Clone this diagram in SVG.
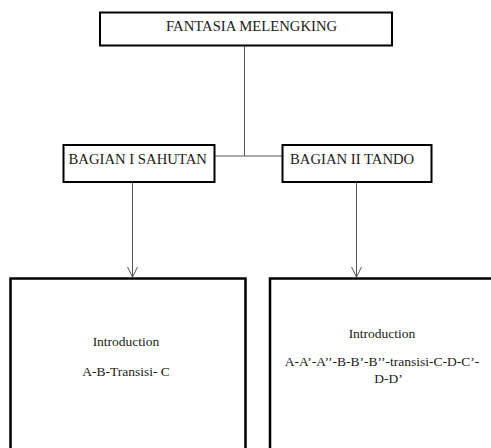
<svg xmlns="http://www.w3.org/2000/svg" width="491" height="448" viewBox="0 0 491 448">
<style>
.box{fill:#fff;stroke:#000;stroke-width:2}
.big{stroke-width:2.5}
.t{font-family:"Liberation Serif","Times New Roman",serif;fill:#1a1a1a}
.h{font-size:14.7px}
.s{font-size:13.5px}
.c{stroke:#555;stroke-width:1;fill:none}
</style>
<defs>
<marker id="arr" markerWidth="12" markerHeight="12" refX="10" refY="5" orient="auto" markerUnits="userSpaceOnUse">
<path d="M0,0 L10,5 L0,10" fill="none" stroke="#555" stroke-width="1"/>
</marker>
</defs>
<g id="connectors">
<line class="c" x1="244.5" y1="46" x2="244.5" y2="156"/>
<line class="c" x1="214" y1="156" x2="283" y2="156"/>
<line class="c" x1="132.5" y1="182" x2="132.5" y2="277" marker-end="url(#arr)"/>
<line class="c" x1="356.5" y1="182" x2="356.5" y2="277" marker-end="url(#arr)"/>
</g>
<g id="fantasia">
<rect class="box" x="100" y="12.5" width="292" height="33"/>
<text class="t h" x="166" y="31">FANTASIA MELENGKING</text>
</g>
<g id="bagian1">
<rect class="box" x="63.5" y="145" width="151" height="37"/>
<text class="t h" x="68.5" y="163.5">BAGIAN I SAHUTAN</text>
</g>
<g id="bagian2">
<rect class="box" x="282.5" y="145" width="149" height="37"/>
<text class="t h" x="290" y="163.5">BAGIAN II TANDO</text>
</g>
<g id="detail1">
<rect class="box big" x="10.5" y="278.5" width="235" height="180"/>
<text class="t s" x="126" y="346" text-anchor="middle">Introduction</text>
<text class="t s" x="126" y="376" text-anchor="middle">A-B-Transisi- C</text>
</g>
<g id="detail2">
<rect class="box big" x="270" y="278.5" width="240" height="180"/>
<text class="t s" x="382" y="337.5" text-anchor="middle">Introduction</text>
<text class="t s" x="382" y="366" text-anchor="middle">A-A’-A’’-B-B’-B’’-transisi-C-D-C’-</text>
<text class="t s" x="388.5" y="383" text-anchor="middle">D-D’</text>
</g>
</svg>
